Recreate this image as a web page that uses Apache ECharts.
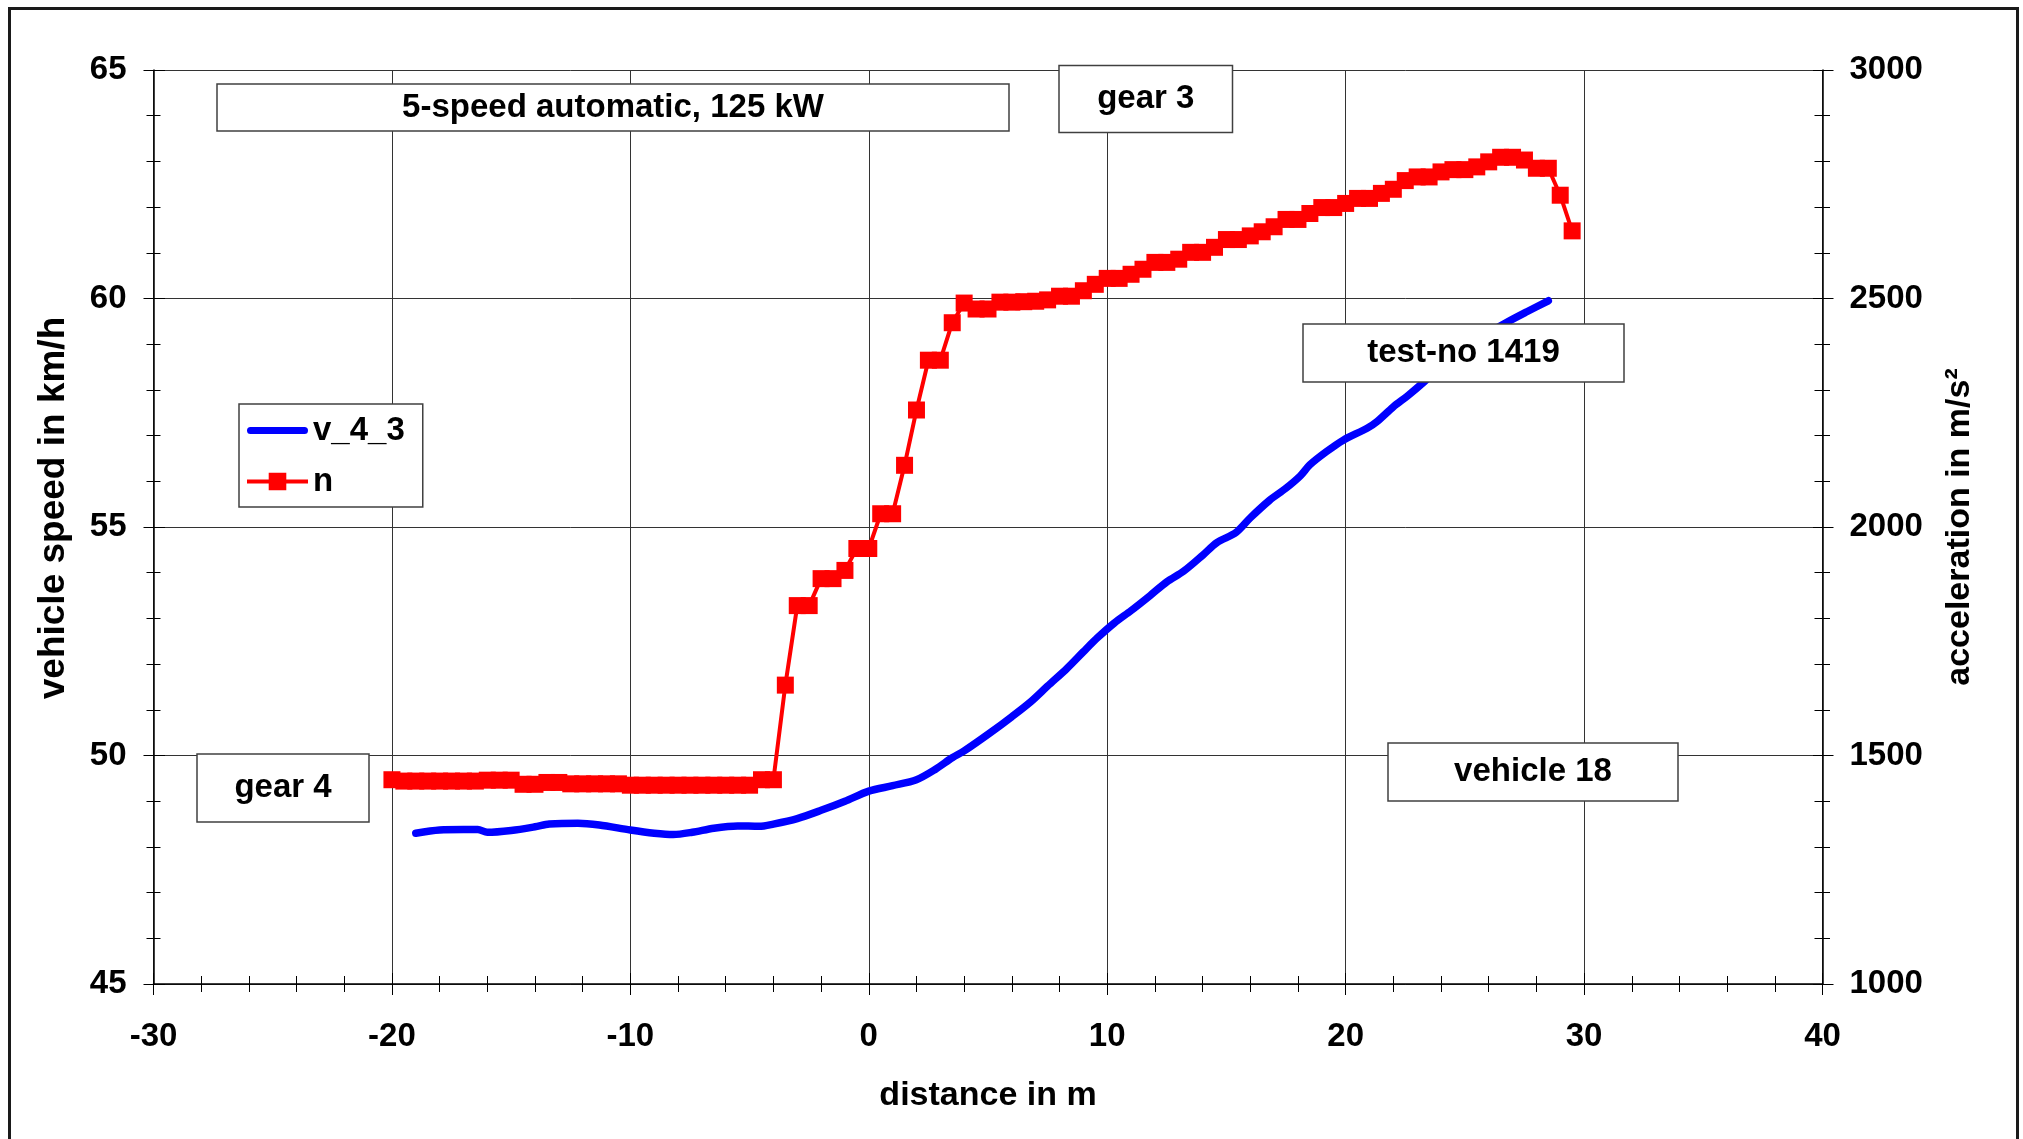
<!DOCTYPE html>
<html><head><meta charset="utf-8">
<script src="https://cdn.jsdelivr.net/npm/echarts@6/dist/echarts.min.js"></script>
<style>html,body{margin:0;padding:0;background:#fff}#c{width:2023px;height:1139px}</style>
</head><body><div id="c"></div>
<script>
// ---- data ----
const distV = [-19.0, -18.0, -17.0, -16.4, -16.0, -15.0, -14.0, -13.4, -12.2, -11.3, -10.0, -9.0, -8.2, -7.4, -6.5, -5.5, -4.6, -4.0, -3.0, -2.0, -1.0, 0.0, 1.0, 2.0, 2.8, 3.5, 4.0, 5.1, 6.0, 6.8, 7.5, 8.3, 9.0, 9.6, 10.3, 11.0, 11.8, 12.5, 13.2, 14.0, 14.6, 15.4, 16.0, 16.8, 17.5, 18.1, 18.5, 19.2, 19.9, 20.9, 21.3, 22.0, 22.6, 23.3, 24.0, 25.0, 26.0, 26.8, 27.6, 28.5];
const speedV = [48.30, 48.37, 48.38, 48.38, 48.32, 48.36, 48.44, 48.50, 48.52, 48.48, 48.37, 48.30, 48.27, 48.32, 48.41, 48.46, 48.45, 48.50, 48.62, 48.80, 49.00, 49.22, 49.34, 49.47, 49.70, 49.95, 50.10, 50.50, 50.85, 51.18, 51.52, 51.90, 52.27, 52.58, 52.90, 53.17, 53.50, 53.80, 54.03, 54.38, 54.66, 54.88, 55.20, 55.58, 55.85, 56.12, 56.36, 56.65, 56.90, 57.16, 57.30, 57.63, 57.87, 58.18, 58.52, 58.92, 59.25, 59.49, 59.71, 59.95];

const distN = [-20, -19.5, -19, -18.5, -18, -17.5, -17, -16.5, -16, -15.5,
  -15, -14.5, -14, -13.5, -13, -12.5, -12, -11.5, -11, -10.5,
  -10, -9.5, -9, -8.5, -8, -7.5, -7, -6.5, -6, -5.5,
  -5, -4.5, -4, -3.5, -3, -2.5, -2, -1.5, -1, -0.5,
  0, 0.5, 1, 1.5, 2, 2.5, 3, 3.5, 4, 4.5,
  5, 5.5, 6, 6.5, 7, 7.5, 8, 8.5, 9, 9.5,
  10, 10.5, 11, 11.5, 12, 12.5, 13, 13.5, 14, 14.5,
  15, 15.5, 16, 16.5, 17, 17.5, 18, 18.5, 19, 19.5,
  20, 20.5, 21, 21.5, 22, 22.5, 23, 23.5, 24, 24.5,
  25, 25.5, 26, 26.5, 27, 27.5, 28, 28.5, 29, 29.5];
const rpmN = [1447, 1444, 1444, 1444, 1444, 1444, 1444, 1444, 1446, 1446,
  1446, 1437, 1437, 1441, 1441, 1438, 1438, 1438, 1438, 1438,
  1435, 1435, 1435, 1435, 1435, 1435, 1435, 1435, 1435, 1435,
  1435, 1447, 1447, 1654, 1828, 1828, 1887, 1887, 1905, 1953,
  1953, 2029, 2029, 2135, 2256, 2365, 2365, 2447, 2490, 2477,
  2477, 2492, 2492, 2493, 2494, 2497, 2505, 2505, 2517, 2531,
  2544, 2544, 2553, 2564, 2579, 2579, 2586, 2601, 2601, 2612,
  2629, 2629, 2637, 2646, 2657, 2673, 2673, 2686, 2699, 2699,
  2708, 2719, 2719, 2730, 2739, 2758, 2766, 2766, 2777, 2782,
  2782, 2788, 2799, 2809, 2809, 2803, 2785, 2785, 2726, 2648];

const seriesNames = ['v_4_3', 'n'];
const xRange = [-30, 40, 10];
const speedRange = [45, 65, 5];
const rpmRange = [1000, 3000, 500];
const axisTitles = ['distance in m', 'vehicle speed in km/h', 'acceleration in m/s²'];
const notes = ['5-speed automatic, 125 kW', 'gear 3', 'test-no 1419', 'vehicle 18', 'gear 4'];

// ---- chart ----
const FF = '"Liberation Sans", Arial, sans-serif';
const lbl = {fontSize: 33, fontWeight: 'bold', color: '#000', fontFamily: FF, formatter: v => String(v)};
const pair = (xs, ys) => xs.map((x, i) => [x, ys[i]]);

function tickAxis(range, extra) {
  return Object.assign({
    type: 'value', min: range[0], max: range[1], interval: range[2],
    splitLine: {show: false}
  }, extra);
}

function box(x, y, w, h, text) {
  return {type: 'group', z: 100, children: [
    {type: 'rect', z: 100, shape: {x: x, y: y, width: w, height: h},
     style: {fill: '#fff', stroke: '#404040', lineWidth: 1.5}},
    {type: 'text', z: 101, x: x + w / 2, y: y + h / 2,
     style: {text: text, fontSize: 33, fontWeight: 'bold', fontFamily: FF, fill: '#000',
             align: 'center', verticalAlign: 'middle'}}
  ]};
}

const tick = {color: '#000', width: 1};
const chart = echarts.init(document.getElementById('c'), null, {renderer: 'canvas'});
chart.setOption({
  backgroundColor: '#fff',
  animation: false,
  grid: {left: 153.5, right: 200.5, top: 70, bottom: 155, containLabel: false},
  xAxis: [
    tickAxis(xRange, {
      position: 'bottom',
      name: axisTitles[0], nameLocation: 'middle', nameGap: 95,
      nameTextStyle: {fontSize: 34, fontWeight: 'bold', color: '#000', fontFamily: FF},
      axisLine: {show: true, onZero: false, lineStyle: {color: '#000', width: 1.5}},
      axisTick: {show: true, inside: false, length: 11, lineStyle: tick},
      minorTick: {show: true, splitNumber: 5, length: 8, lineStyle: tick},
      axisLabel: Object.assign({margin: 36}, lbl),
      splitLine: {show: true, lineStyle: {color: '#333', width: 1}}
    }),
    tickAxis(xRange, {
      position: 'bottom',
      axisLine: {show: false, onZero: false}, axisLabel: {show: false},
      axisTick: {show: true, inside: true, length: 11, lineStyle: tick},
      minorTick: {show: true, splitNumber: 5, length: 8, lineStyle: tick}
    })
  ],
  yAxis: [
    tickAxis(speedRange, {
      position: 'left',
      name: axisTitles[1], nameLocation: 'middle', nameGap: 81, nameRotate: 90,
      nameTextStyle: {fontSize: 37, fontWeight: 'bold', color: '#000', fontFamily: FF, padding: [0, 0, 0, 38]},
      axisLine: {show: true, onZero: false, lineStyle: {color: '#000', width: 1.5}},
      axisTick: {show: true, inside: false, length: 10, lineStyle: tick},
      minorTick: {show: true, splitNumber: 5, length: 7, lineStyle: tick},
      axisLabel: Object.assign({margin: 27}, lbl),
      splitLine: {show: true, lineStyle: {color: '#333', width: 1}}
    }),
    tickAxis(rpmRange, {
      position: 'right',
      name: axisTitles[2], nameLocation: 'middle', nameGap: 120, nameRotate: 90,
      nameTextStyle: {fontSize: 34, fontWeight: 'bold', color: '#000', fontFamily: FF},
      axisLine: {show: true, onZero: false, lineStyle: {color: '#000', width: 1.5}},
      axisTick: {show: true, inside: false, length: 11, lineStyle: tick},
      minorTick: {show: true, splitNumber: 5, length: 7.5, lineStyle: tick},
      axisLabel: Object.assign({margin: 27}, lbl)
    }),
    tickAxis(speedRange, {
      position: 'left',
      axisLine: {show: false, onZero: false}, axisLabel: {show: false},
      axisTick: {show: true, inside: true, length: 11.5, lineStyle: tick},
      minorTick: {show: true, splitNumber: 5, length: 7, lineStyle: tick}
    }),
    tickAxis(rpmRange, {
      position: 'right',
      axisLine: {show: false, onZero: false}, axisLabel: {show: false},
      axisTick: {show: true, inside: true, length: 9.5, lineStyle: tick},
      minorTick: {show: true, splitNumber: 5, length: 8, lineStyle: tick}
    })
  ],
  legend: {
    orient: 'vertical', left: 239, top: 404,
    backgroundColor: '#fff', borderColor: '#404040', borderWidth: 1.5, borderRadius: 0,
    padding: [10, 18, 9, 8], itemGap: 18, itemWidth: 61, itemHeight: 22,
    textStyle: {fontSize: 33, fontWeight: 'bold', color: '#000', fontFamily: FF},
    data: [
      {name: seriesNames[0], icon: 'path://M3.5,7.5 L57.5,7.5 A3.5,3.5 0 0 1 57.5,14.5 L3.5,14.5 A3.5,3.5 0 0 1 3.5,7.5 Z M0,0 L0.01,0 Z M61,22 L60.99,22 Z', itemStyle: {color: '#0000ff'}},
      {name: seriesNames[1], icon: 'path://M0,9 L61,9 L61,13 L0,13 Z M21.7,2.2 L39.3,2.2 L39.3,19.8 L21.7,19.8 Z M0,0 L0.01,0 Z M61,22 L60.99,22 Z', itemStyle: {color: '#ff0000'}}
    ]
  },
  series: [
    {
      name: seriesNames[0], type: 'line', xAxisIndex: 0, yAxisIndex: 0,
      data: pair(distV, speedV), smooth: 0.3, showSymbol: false, symbol: 'none',
      lineStyle: {color: '#0000ff', width: 7.5, cap: 'round', join: 'round'},
      itemStyle: {color: '#0000ff'}, z: 3
    },
    {
      name: seriesNames[1], type: 'line', xAxisIndex: 0, yAxisIndex: 1,
      data: pair(distN, rpmN), symbol: 'rect', symbolSize: 17, showAllSymbol: true,
      lineStyle: {color: '#ff0000', width: 4},
      itemStyle: {color: '#ff0000'}, z: 4
    }
  ],
  graphic: [
    {type: 'rect', z: 0, shape: {x: 9.5, y: 8.5, width: 2008, height: 1200},
     style: {fill: 'none', stroke: '#1a1a1a', lineWidth: 3}},
    box(217, 84, 792, 47, notes[0]),
    box(1059, 65.5, 173.5, 67, notes[1]),
    box(1303, 324, 321, 58, notes[2]),
    box(1388, 743, 290, 58, notes[3]),
    box(197, 754, 172, 68, notes[4])
  ]
});
</script>
</body></html>
